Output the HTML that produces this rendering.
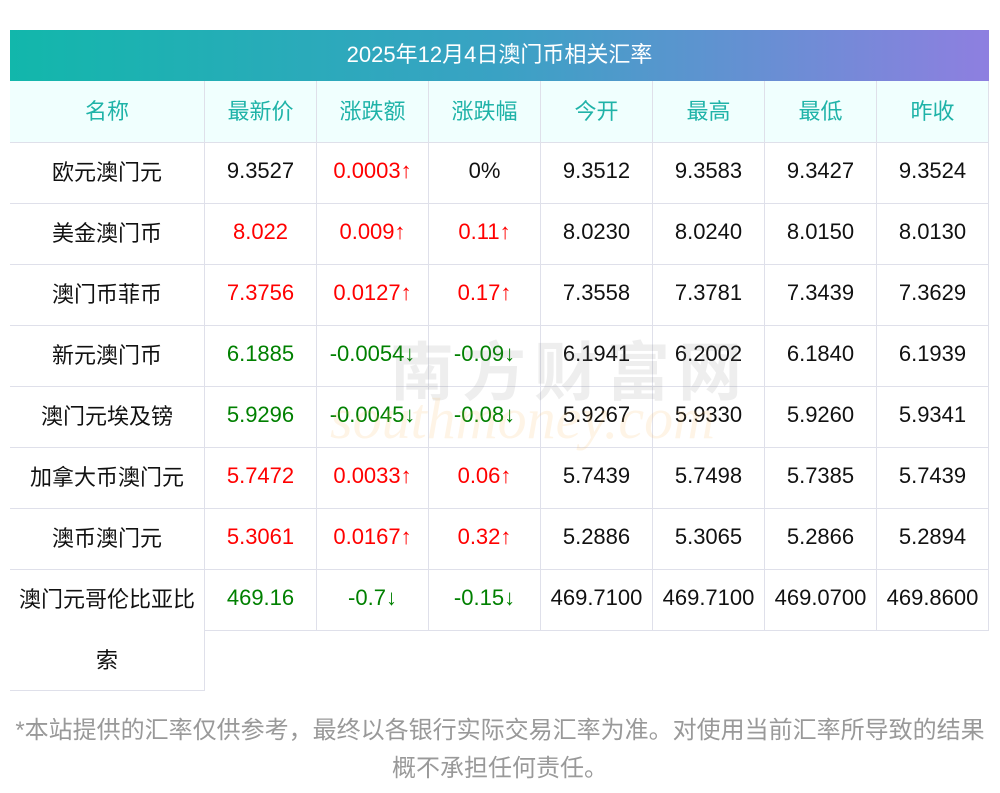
<!DOCTYPE html>
<html><head><meta charset="utf-8"><style>
body{margin:0;width:1000px;height:793px;background:#fff;font-family:"Liberation Sans","Noto Sans CJK SC",sans-serif;position:relative;overflow:hidden}
.t{position:absolute;left:10px;top:30px;width:979px;height:51px;background:linear-gradient(90deg,#12b7ab,#3aa2c4 50%,#8e7fe0);color:#fff;font-size:22px;text-align:center;line-height:49px}
.c{position:absolute;box-sizing:border-box;border-right:1px solid #dfe0ea;border-bottom:1px solid #dfe0ea;display:flex;align-items:center;justify-content:center;font-size:22px;color:#111;padding-bottom:3px}
.h{background:#f0fffe;color:#1fb3a8}
.r{color:#f00}.g{color:#008000}
.f{position:absolute;left:0;width:1000px;text-align:center;color:#999;font-size:24px;white-space:nowrap}
.w{position:absolute;white-space:nowrap;pointer-events:none}
</style></head><body>
<div class="t">2025年12月4日澳门币相关汇率</div>
<div id="tb"></div>
<div class="w" style="left:390px;top:322px;font-size:64px;color:rgba(120,120,120,0.13);font-weight:bold;letter-spacing:8px;font-family:'Noto Sans CJK SC',sans-serif">南方财富网</div>
<div class="w" style="left:330px;top:385px;font-size:58px;color:rgba(250,180,90,0.15);font-style:italic;font-family:'Liberation Serif',serif">southmoney.com</div>
<div class="f" style="top:710px">*本站提供的汇率仅供参考，最终以各银行实际交易汇率为准。对使用当前汇率所导致的结果</div>
<div class="f" style="top:748px">概不承担任何责任。</div>
<script>
var xs=[10,205,317,429,541,653,765,877,989];
var H=["名称","最新价","涨跌额","涨跌幅","今开","最高","最低","昨收"];
var R=[
["欧元澳门元","9.3527","r0.0003↑","0%","9.3512","9.3583","9.3427","9.3524"],
["美金澳门币","r8.022","r0.009↑","r0.11↑","8.0230","8.0240","8.0150","8.0130"],
["澳门币菲币","r7.3756","r0.0127↑","r0.17↑","7.3558","7.3781","7.3439","7.3629"],
["新元澳门币","g6.1885","g-0.0054↓","g-0.09↓","6.1941","6.2002","6.1840","6.1939"],
["澳门元埃及镑","g5.9296","g-0.0045↓","g-0.08↓","5.9267","5.9330","5.9260","5.9341"],
["加拿大币澳门元","r5.7472","r0.0033↑","r0.06↑","5.7439","5.7498","5.7385","5.7439"],
["澳币澳门元","r5.3061","r0.0167↑","r0.32↑","5.2886","5.3065","5.2866","5.2894"],
["澳门元哥伦比亚比索","g469.16","g-0.7↓","g-0.15↓","469.7100","469.7100","469.0700","469.8600"]];
var s="";
function cell(i,y,h,txt,cls){s+='<div class="c '+cls+'" style="left:'+xs[i]+'px;top:'+y+'px;width:'+(xs[i+1]-xs[i])+'px;height:'+h+'px">'+txt+'</div>';}
H.forEach(function(t,i){cell(i,81,62,t,"h");});
R.forEach(function(r,j){var y=142+61*j;r.forEach(function(t,i){var cl="";if(i>0&&(t[0]=="r"||t[0]=="g")){cl=t[0];t=t.slice(1);}
if(i==0&&j==7){s+='<div class="c" style="left:10px;top:'+y+'px;width:195px;height:122px;line-height:61px;text-align:center;display:block;padding:0 4px">澳门元哥伦比亚比<br>索</div>';}
else cell(i,y,62,t,cl);});});
document.getElementById("tb").innerHTML=s;
</script>
</body></html>
